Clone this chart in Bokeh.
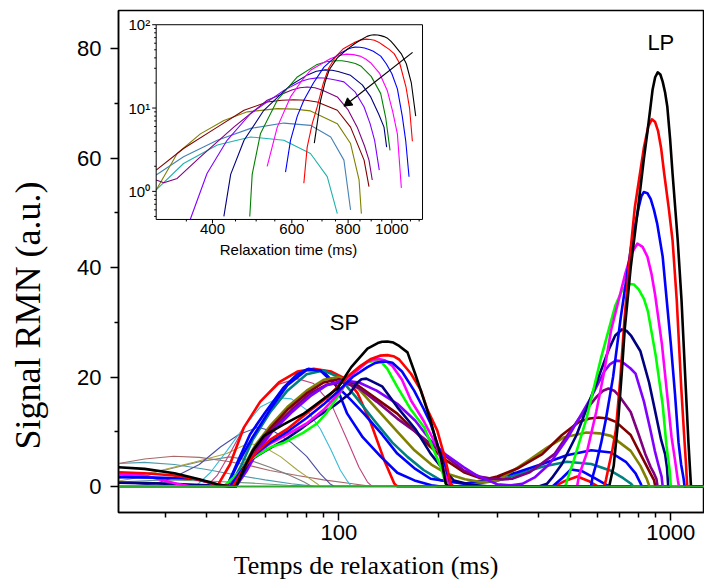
import math
from bokeh.plotting import figure
from bokeh.models import (Range1d, LogScale, LogAxis, FixedTicker, NumeralTickFormatter,
                          CoordinateMapping)
from bokeh.core.properties import value
from bokeh.embed import file_html
from bokeh.resources import INLINE

# ---------------- data (relaxation time in ms, signal in a.u.) ----------------
black_x = [21.7, 26, 32, 38, 43, 47, 49, 52, 55, 59.6, 68, 78, 86, 99, 109, 122, 131, 135, 140, 146, 151, 161, 170, 180, 189, 197, 203, 210, 214,
           652, 673, 695, 712, 727, 757, 797, 830, 851, 881, 897, 913, 930, 945, 961, 976, 995, 1012, 1049, 1077, 1105, 1130, 1150, 1281]
black_y = [3.5, 3.2, 2.4, 1.3, 0.4, 0, 0, 3.5, 6.5, 9.3, 11.3, 13.2, 15.1, 17.9, 21.8, 25.2, 26.2, 26.45, 26.5, 26.3, 25.8, 24.5, 20.5, 16.0, 12.0, 8.0, 5.4, 0.5, 0,
           0, 3.8, 12.4, 21, 29, 40, 51, 60, 65, 72.5, 74.8, 75.7, 75.3, 74.0, 72, 69.4, 63.5, 57.2, 45.0, 34.0, 20.0, 8.0, 0, 0]

red_x = [21.7, 26, 32, 38, 43, 48, 52, 56, 62, 70, 82, 92.5, 106, 116, 125, 133, 140, 146, 152, 165, 176.6, 185, 198, 207, 212, 217, 221,
         630, 638, 649, 666, 683, 705, 724, 750, 779, 830, 855, 877, 897, 915, 935, 955, 985, 1012, 1042, 1075, 1095, 1111, 1120, 1281]
red_y = [2.6, 2.4, 2.0, 1.2, 0.3, 0, 3.5, 6, 8.5, 10.5, 13.9, 16.3, 20, 22, 23.3, 23.9, 24, 23.8, 23.2, 20.6, 17.6, 14, 10.2, 6, 3.5, 0.5, 0,
         0, 1.25, 3.4, 6.5, 10.3, 20, 30, 41, 51, 62, 65.8, 67.1, 66.6, 65, 61.8, 57.2, 51, 45, 34, 18, 10, 4, 0, 0]

blue_x = [21.7, 28, 36.6, 44, 47, 51, 55, 62, 70, 80, 90, 100, 110, 122, 128, 134, 140, 145, 155, 168.6, 180, 189, 200, 210, 217, 221,
          575, 581, 596, 617, 638, 670, 707, 760, 800, 815, 829, 850, 870, 890, 910, 945, 972, 1000, 1029, 1055, 1074, 1092, 1100, 1281]
blue_y = [1.7, 1.6, 1.4, 0.2, 0, 3, 5.5, 8, 10, 12.5, 15, 17.5, 20, 21.8, 22.5, 22.8, 22.8, 22.6, 21, 17.5, 14.2, 11.5, 7, 3.5, 0.5, 0,
          0, 1.7, 4.1, 8, 12.4, 20, 31, 44, 51, 53, 53.8, 53.6, 52.5, 50.5, 48, 42, 34, 26, 17, 8, 4, 1.5, 0, 0]

magenta_x = [21.7, 26, 32.5, 36, 47, 51, 55, 62, 70, 80, 90, 100, 110, 122, 127, 132, 138, 145, 155, 165, 180, 198, 205, 212, 218,
             522, 529, 557, 596, 630, 660, 730, 760, 793, 822, 850, 875, 897, 940, 978, 1005, 1029, 1050, 1058, 1281]
magenta_y = [2.2, 2.0, 0.5, 0, 0, 3, 5.5, 7.8, 9.5, 11.5, 14, 17, 20.5, 22.8, 23.2, 23.3, 23, 22, 19.5, 15.7, 12, 7.2, 4, 1.1, 0,
             0, 2, 5.9, 13.6, 21, 28.4, 39, 42.5, 44.4, 43.8, 42, 38.8, 35, 26, 16, 9, 4.9, 1.1, 0, 0]

green_x = [21.7, 45, 50, 54.3, 62.4, 68.4, 78, 86, 92, 99, 108.7, 116, 122, 129, 135, 140, 150, 165, 180.7, 192, 203, 210, 214,
           480, 484, 490, 511, 557, 617, 680, 715, 750, 775, 800, 830, 853, 900, 945, 970, 991, 1000, 1281]
green_y = [0, 0, 2.5, 5, 7.2, 8, 9.8, 11.5, 13.5, 16.3, 20.3, 21.9, 22.7, 23, 22.6, 21.5, 18.2, 14, 10.8, 7, 3.5, 0.5, 0,
           0, 0.5, 1.6, 4.9, 12.4, 23.6, 33, 36, 37, 36.9, 36, 34.3, 32, 24, 14.9, 7.5, 3.1, 0, 0]

navy_x = [21.7, 30, 40, 45, 49, 54, 60, 68.4, 78, 86, 97, 108, 113, 117, 121, 125, 135, 150, 170, 189, 205, 222, 250, 280,
          400, 424, 439, 470, 520, 596, 650, 680, 712, 737, 760, 810, 860, 898, 935, 961, 974, 982, 1281]
navy_y = [0.7, 0.5, 0.2, 0, 0, 4.8, 6.5, 8.4, 10.8, 12.7, 14.8, 17, 18.8, 19.6, 19.7, 19.3, 18.3, 14.5, 10.5, 6, 3.3, 1.1, 0.3, 0,
          0, 0.5, 1.6, 4.1, 9.4, 18.8, 25, 27.6, 28.7, 28.4, 27.5, 24.7, 19, 13.6, 8.5, 5.9, 3.4, 0, 0]

violet_x = [21.7, 49, 53, 57, 63, 72, 82, 92, 103, 115, 130, 150, 170, 189, 210, 238, 260, 280, 300, 330,
            357, 389, 431, 486, 576, 630, 655, 683, 705, 730, 755, 783, 830, 868, 895, 916, 938, 945, 1281]
violet_y = [0, 0, 3, 6.5, 10, 13.5, 16.5, 18.5, 19.4, 19, 17.5, 15.1, 12, 8.4, 5.8, 3.5, 2.0, 1.2, 0.4, 0.2,
            0.46, 1.64, 4.1, 8.6, 16.3, 21, 22.3, 23, 22.9, 22.3, 21.6, 20.6, 15.5, 10.3, 6.5, 4.1, 1.8, 0, 0]

purple_x = [21.7, 49, 53, 57, 63, 72, 82, 92, 103, 115, 130, 150, 170, 189, 210, 238, 265, 285, 300, 312, 334, 376,
            446, 529, 600, 625, 649, 675, 700, 757, 800, 838, 870, 890, 905, 912, 1281]
purple_y = [0, 0, 3.5, 7, 10.5, 14, 17, 18.6, 19, 18, 15.5, 12.4, 10, 7.8, 5.5, 2.9, 1.8, 1.45, 1.37, 1.27, 1.43, 2.6,
            5.9, 12.4, 16.5, 17.5, 17.9, 17.5, 16.5, 13.6, 9.5, 5.9, 3.5, 2.37, 1.37, 0, 0]

wine_x = [21.7, 48, 52, 56, 62, 70, 80, 90, 100, 112, 130, 150, 170, 189, 210, 238, 265, 285, 300, 345, 410,
          470, 529, 570, 606, 645, 683, 757, 810, 868, 890, 898, 1281]
wine_y = [0, 0, 3.5, 7, 10.5, 14, 17, 19, 19.6, 18.8, 16, 13.3, 10, 7.2, 4.8, 2.6, 1.6, 1.5, 1.8, 3.27, 5.9,
          9.4, 11.8, 12.4, 12.6, 12.4, 11.8, 9.4, 5.9, 2.37, 1.14, 0, 0]

olive_x = [21.7, 48, 52, 56, 62, 70, 80, 90, 100, 112, 134, 150, 169, 190, 212, 240, 268, 300, 334, 376, 424,
           478, 557, 610, 660, 757, 810, 846, 856, 862, 1281]
olive_y = [0, 0, 4, 7.5, 11, 14.5, 17.5, 19.5, 20, 18.5, 13.3, 10, 6.6, 4, 2.3, 1.3, 0.8, 1.04, 2.85, 4.9, 7.1,
           9.0, 9.85, 9.7, 9.24, 6.5, 3.75, 1.37, 0.54, 0, 0]

blue2_x = [21.7, 46, 50, 55, 62, 70, 80, 88, 98, 108, 119, 135, 150, 170, 189, 238, 300, 345, 410, 486, 576,
           660, 732, 783, 810, 818, 1281]
blue2_y = [0, 0, 4.5, 9, 14, 18.5, 21.3, 21.2, 18.5, 16, 13.3, 9.5, 6, 3.2, 1.4, 0.5, 1.57, 2.6, 4.1, 5.7, 6.6,
           6.2, 4.5, 2.37, 0.6, 0, 0]

teal_x = [21.7, 47, 51, 55, 62, 70, 80, 90, 100, 112, 127.7, 145, 161, 180, 203, 250, 300, 345, 410, 486, 576,
          660, 719, 757, 770, 1281]
teal_y = [0, 0, 4, 8.5, 13.5, 17.5, 20.5, 21.2, 20, 16.5, 12.1, 8, 5.4, 3, 1.1, 0.4, 1.04, 2.16, 3.6, 4.5, 4.1,
          2.85, 1.5, 0.54, 0, 0]

blue3_x = [21.7, 46, 50, 54, 60, 68, 75, 81, 90, 98, 106, 118, 134, 150, 169, 190, 200, 440, 470, 500, 540, 590, 640, 652, 1281]
blue3_y = [0, 0, 5, 9.5, 13.5, 18, 20.5, 21.5, 21, 18.5, 13.3, 9, 5.4, 2.5, 1.1, 0.2, 0, 0, 1.5, 3.1, 2.8, 1.5, 0.3, 0, 0]

red2_x = [21.7, 43, 47, 51.8, 58, 66, 75, 84, 95, 106, 114, 125, 137, 147, 150, 446, 480, 523, 565, 602, 1281]
red2_y = [0, 0, 4, 10.8, 15.5, 19, 21, 21.5, 21, 19.5, 17, 11.5, 4.8, 0.5, 0, 0, 1.0, 1.8, 1.0, 0, 0]

rose_x = [21.7, 40, 43, 47, 52, 58, 66, 75, 84, 95, 106, 115, 122, 126, 1281]
rose_y = [0, 0, 2, 6, 11, 15.5, 18.7, 19.7, 18.8, 15, 8.5, 3.5, 0.8, 0, 0]

cyan_x = [21.7, 37, 41, 46, 52, 58, 66, 72, 80, 88, 95, 101, 106, 109, 1281]
cyan_y = [0, 0, 2.5, 6.5, 11, 14.5, 16.2, 16, 14, 10.5, 6.5, 3, 1, 0, 0]

slate_x = [21.7, 24, 28, 32, 38, 44, 50, 57, 64, 72, 80, 88, 94, 97, 1281]
slate_y = [0, 0.1, 0.5, 1.7, 4, 7.2, 9.5, 10.8, 10, 8, 5.5, 2.3, 0.5, 0, 0]

olive2_x = [21.7, 26, 29, 36.6, 46, 53, 58, 66.9, 75, 80.5, 86, 88, 1281]
olive2_y = [1.0, 1.8, 2.9, 4.4, 6, 7.8, 7.6, 5.4, 3, 1.7, 0.5, 0, 0]

gray_x = [21.7, 30, 38, 47, 54, 62, 70, 78.6, 83, 1281]
gray_y = [1.5, 3, 4.5, 5.4, 4.8, 3.5, 2.2, 0.8, 0, 0]

brown_x = [21.7, 26, 31.8, 38, 46, 54, 62, 75, 90, 110, 125, 1281]
brown_y = [4.2, 5, 5.5, 5.3, 4.6, 3.8, 2.9, 2, 1.2, 0.5, 0, 0]

steel_x = [21.7, 26, 32, 40, 50, 60, 72, 85, 1281]
steel_y = [4.2, 4.4, 4.0, 3.1, 2.0, 1.2, 0.5, 0, 0]

sage_x = [21.7, 30, 40, 55, 70, 85, 1281]
sage_y = [0.8, 1.2, 1.0, 0.6, 0.2, 0, 0]

base_x = [21.7, 1281]
base_y = [0, 0]

# axis ticks
x_major = [100, 1000]
x_minor = [30, 40, 50, 60, 70, 80, 90, 200, 300, 400, 500, 600, 700, 800, 900]
y_major = [0, 20, 40, 60, 80]
y_minor = [10, 30, 50, 70]
inset_x_major = [400, 600, 800, 1000]
inset_x_labels = ["400", "600", "800", "1000"]
inset_x_minor = [350, 450, 500, 550, 650, 700, 750, 850, 900, 950, 1050, 1100, 1150]
inset_y_major = [1, 10, 100]
inset_y_labels = ["10\u2070", "10\u00b9", "10\u00b2"]
inset_y_minor = [0.5, 0.6, 0.7, 0.8, 0.9, 2, 3, 4, 5, 6, 7, 8, 9, 20, 30, 40, 50, 60, 70, 80, 90]

peak_names = ["SP", "LP"]
peak_x = [104, 933]
peak_y = [30, 81.2]

NB = "\u00a0"  # padding that moves the axis titles along their axes
x_title = "Temps de relaxation (ms)" + NB * 14
y_title = "Signal RMN (a.u.)" + NB * 12

# ---------------- figure ----------------
p = figure(width=704, height=586, output_backend="svg", toolbar_location=None,
           x_range=Range1d(0, 1), y_range=Range1d(-4.77, 87.0),
           x_axis_location=None, y_axis_location="left",
           min_border_left=118, min_border_right=0, min_border_top=10, min_border_bottom=74)
p.extra_x_ranges = {"mx": Range1d(21.7, 1263)}
p.extra_x_scales = {"mx": LogScale()}
p.grid.visible = False
p.outline_line_color = "black"
p.outline_line_width = 1.5
p.background_fill_color = "white"
p.border_fill_color = "white"

SANS = "Liberation Sans"
SERIF = "Liberation Serif"

yax = p.yaxis[0]
yax.ticker = FixedTicker(ticks=y_major, minor_ticks=y_minor)
yax.axis_line_width = 1.5
yax.major_tick_line_width = 1.5
yax.minor_tick_line_width = 1.5
yax.major_tick_out = 8
yax.major_tick_in = 0
yax.minor_tick_out = 4
yax.minor_tick_in = 0
yax.major_label_text_font = SANS
yax.major_label_text_font_size = "22px"
yax.major_label_text_color = "black"
yax.major_label_standoff = 9
yax.axis_label = y_title
yax.axis_label_text_font = SERIF
yax.axis_label_text_font_size = "36px"
yax.axis_label_text_font_style = "normal"
yax.axis_label_text_color = "black"
yax.axis_label_standoff = 26

xax = LogAxis(x_range_name="mx", ticker=FixedTicker(ticks=x_major, minor_ticks=x_minor),
              formatter=NumeralTickFormatter(format="0"))
xax.axis_line_width = 1.5
xax.major_tick_line_width = 1.5
xax.minor_tick_line_width = 1.5
xax.major_tick_out = 8
xax.major_tick_in = 0
xax.minor_tick_out = 5
xax.minor_tick_in = 0
xax.major_label_text_font = SANS
xax.major_label_text_font_size = "22px"
xax.major_label_text_color = "black"
xax.major_label_standoff = 4
xax.axis_label = x_title
xax.axis_label_text_font = SERIF
xax.axis_label_text_font_size = "26px"
xax.axis_label_text_font_style = "normal"
xax.axis_label_text_color = "black"
xax.axis_label_standoff = 8
p.add_layout(xax, "below")

# main curves: thin ones first, then thick ones, black on top
thin = [(sage_x, sage_y, "#6A9A7A"), (steel_x, steel_y, "#4A9AAA"), (brown_x, brown_y, "#A86868"),
        (gray_x, gray_y, "#7F7F7F"), (olive2_x, olive2_y, "#A6A640"), (slate_x, slate_y, "#4B4FA0"),
        (cyan_x, cyan_y, "#38BCD8"), (rose_x, rose_y, "#C0407F")]
for xs, ys, c in thin:
    p.line(xs, ys, x_range_name="mx", line_color=c, line_width=1.1)

thick = [(red2_x, red2_y, "#FF0000"), (blue3_x, blue3_y, "#0000FF"), (teal_x, teal_y, "#008080"),
         (blue2_x, blue2_y, "#0000FF"), (olive_x, olive_y, "#808000"), (wine_x, wine_y, "#800000"),
         (purple_x, purple_y, "#800080"), (violet_x, violet_y, "#8000FF"), (navy_x, navy_y, "#000080"),
         (green_x, green_y, "#00FF00"), (magenta_x, magenta_y, "#FF00FF"), (blue_x, blue_y, "#0000FF"),
         (red_x, red_y, "#FF0000"), (black_x, black_y, "#000000")]
for xs, ys, c in thick:
    p.line(xs, ys, x_range_name="mx", line_color=c, line_width=2.6, line_join="round")

p.line(base_x, base_y, x_range_name="mx", line_color="#2EAA2E", line_width=2)

p.text(x=peak_x, y=peak_y, text=peak_names, x_range_name="mx", text_font=value(SANS),
       text_font_size="22px", text_align="center", text_baseline="middle", text_color="black")

# ---------------- inset (log-log, sub-coordinates) ----------------
ix0, ix1, iy0, iy1 = 300, 1170, 0.46, 100
cmap = CoordinateMapping(x_source=Range1d(ix0, ix1), y_source=Range1d(iy0, iy1),
                         x_scale=LogScale(), y_scale=LogScale(),
                         x_target=Range1d(0.0643, 0.5188), y_target=Range1d(48.8, 84.4))

def sub(r):
    r.coordinates = cmap
    return r

sub(p.quad(left=[ix0], right=[ix1], bottom=[iy0], top=[iy1], fill_color="white", line_color=None))

def runs(xs, ys):
    rx, ry, cx, cy = [], [], [], []
    for xv, yv in zip(xs, ys):
        if ix0 <= xv <= ix1 and yv >= 0.45:
            cx.append(xv); cy.append(yv)
        else:
            if len(cx) > 1:
                rx.append(cx); ry.append(cy)
            cx, cy = [], []
    if len(cx) > 1:
        rx.append(cx); ry.append(cy)
    return rx, ry

inset_curves = [(teal_x, teal_y, "#20B2AA"), (blue2_x, blue2_y, "#4682B4"), (olive_x, olive_y, "#808000"),
                (wine_x, wine_y, "#800000"), (purple_x, purple_y, "#800080"), (violet_x, violet_y, "#8000FF"),
                (navy_x, navy_y, "#000080"), (green_x, green_y, "#008000"), (magenta_x, magenta_y, "#FF00FF"),
                (blue_x, blue_y, "#0000FF"), (red_x, red_y, "#FF0000"), (black_x, black_y, "#000000")]
for xs, ys, c in inset_curves:
    rx, ry = runs(xs, ys)
    if rx:
        sub(p.multi_line(xs=rx, ys=ry, line_color=c, line_width=1.1, line_join="round"))

sub(p.quad(left=[ix0], right=[ix1], bottom=[iy0], top=[iy1], fill_color=None, line_color="black", line_width=1))

# inset ticks
sub(p.ray(x=[ix0] * len(inset_y_major), y=inset_y_major, length=4, length_units="screen", angle=math.pi,
          line_color="black", line_width=1))
sub(p.ray(x=[ix0] * len(inset_y_minor), y=inset_y_minor, length=2, length_units="screen", angle=math.pi,
          line_color="black", line_width=1))
sub(p.ray(x=inset_x_major, y=[iy0] * len(inset_x_major), length=4, length_units="screen", angle=-math.pi / 2,
          line_color="black", line_width=1))
sub(p.ray(x=inset_x_minor, y=[iy0] * len(inset_x_minor), length=2, length_units="screen", angle=-math.pi / 2,
          line_color="black", line_width=1))
sub(p.text(x=[ix0] * len(inset_y_major), y=inset_y_major, text=inset_y_labels, x_offset=-6,
           text_font=value(SANS), text_font_size="15px", text_align="right", text_baseline="middle",
           text_color="black"))
sub(p.text(x=inset_x_major, y=[iy0] * len(inset_x_major), text=inset_x_labels, y_offset=5,
           text_font=value(SANS), text_font_size="15px", text_align="center", text_baseline="top",
           text_color="black"))
sub(p.text(x=[590], y=[iy0], text=["Relaxation time (ms)"], y_offset=22,
           text_font=value(SANS), text_font_size="15px", text_align="center", text_baseline="top",
           text_color="black"))

# arrow in the inset
arrow_x0, arrow_y0, arrow_x1, arrow_y1 = 1112, 46.6, 800, 11.5
sub(p.segment(x0=[arrow_x0], y0=[arrow_y0], x1=[arrow_x1], y1=[arrow_y1], line_color="black", line_width=1.2))
sub(p.scatter(x=[arrow_x1], y=[arrow_y1], marker="triangle", size=9, angle=2.22,
              fill_color="black", line_color="black"))

open("out.html", "w").write(file_html(p, INLINE))
